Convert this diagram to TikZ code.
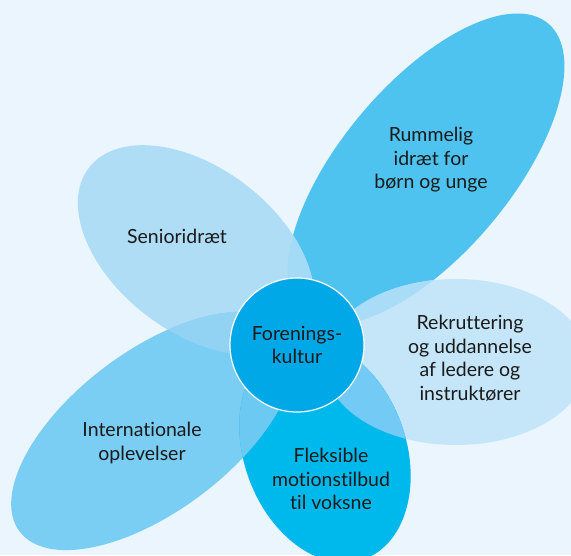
\documentclass[tikz,border=0pt]{standalone}
\usepackage{fontspec}
\setmainfont{Lato}[Ligatures={NoCommon,NoContextual}]
\usepackage{tikz}
\usetikzlibrary{shapes}
\definecolor{cBg}{RGB}{235,245,253}
\definecolor{cRum}{RGB}{79,195,239}
\definecolor{cSen}{RGB}{176,221,246}
\definecolor{cRek}{RGB}{197,230,249}
\definecolor{cInt}{RGB}{122,205,243}
\definecolor{cFle}{RGB}{0,185,236}
\definecolor{cCen}{RGB}{0,168,232}
\definecolor{cSR}{RGB}{163,218,245}
\definecolor{cSI}{RGB}{146,211,244}
\definecolor{cRR}{RGB}{169,220,247}
\definecolor{cIF}{RGB}{108,201,242}
\definecolor{cFR}{RGB}{115,202,244}
\definecolor{cTxt}{RGB}{26,26,26}
\tikzstyle{every node}=[font=\fontsize{19.5}{23.5}\selectfont,text=cTxt,align=center]
\tikzstyle{pRum}=[shift={(426,386)},rotate=50]
\tikzstyle{pSen}=[shift={(196,305)},rotate=-37.5]
\tikzstyle{pRek}=[shift={(456,193)},rotate=0]
\tikzstyle{pInt}=[shift={(153,124)},rotate=37]
\tikzstyle{pFle}=[shift={(325,104)},rotate=20]

\begin{document}
\begin{tikzpicture}[x=1pt,y=1pt]
\useasboundingbox (0,0) rectangle (571,555);
\fill[cBg] (0,0) rectangle (571,555);
\fill[cRum,pRum] (0,0) ellipse (190 and 85);
\fill[cSen,pSen] (0,0) ellipse (135 and 82);
\fill[cRek,pRek] (0,0) ellipse (132 and 83);
\fill[cInt,pInt] (0,0) ellipse (167 and 80);
\fill[cFle,pFle] (0,0) ellipse (81 and 115);
\begin{scope}
\clip[pSen] (0,0) ellipse (135 and 82);
\fill[cSR,pRum] (0,0) ellipse (190 and 85);
\end{scope}
\begin{scope}
\clip[pSen] (0,0) ellipse (135 and 82);
\fill[cSI,pInt] (0,0) ellipse (167 and 80);
\end{scope}
\begin{scope}
\clip[pRek] (0,0) ellipse (132 and 83);
\fill[cRR,pRum] (0,0) ellipse (190 and 85);
\end{scope}
\begin{scope}
\clip[pInt] (0,0) ellipse (167 and 80);
\fill[cIF,pFle] (0,0) ellipse (81 and 115);
\end{scope}
\begin{scope}
\clip[pFle] (0,0) ellipse (81 and 115);
\fill[cFR,pRek] (0,0) ellipse (132 and 83);
\end{scope}
\node (rummelig) at (431,395) {Rummelig\\idræt for\\børn og unge};
\node (senior) at (177,319) {Senioridræt};
\node (rekrut) at (470,197) {Rekruttering\\og uddannelse\\af ledere og\\instruktører};
\node (internat) at (142,112) {Internationale\\oplevelser};
\node (fleks) at (331,76) {Fleksible\\motionstilbud\\til voksne};
\node[circle,minimum size=134pt,fill=cCen,draw=white,line width=1.2pt] (kultur) at (297,210) {Forenings-\\kultur};
\end{tikzpicture}
\end{document}
